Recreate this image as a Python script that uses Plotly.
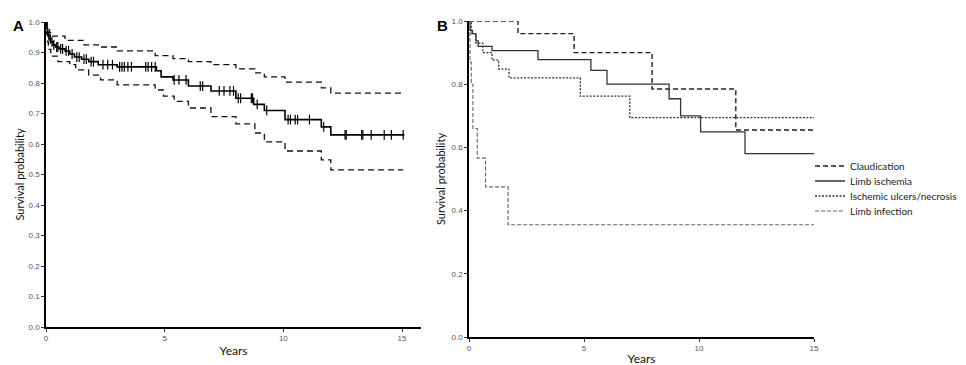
import numpy as np
import plotly.graph_objects as go

# ---------------- Panel A data ----------------
a_time = [0, 0.03, 0.06, 0.1, 0.15, 0.2, 0.3, 0.4, 0.55, 0.8, 1.0, 1.2, 1.5, 1.8, 2.2, 3.0,
          4.65, 4.85, 5.35, 6.0, 6.95, 8.0, 8.75, 9.2, 10.07, 11.6, 12.0, 15.1]
a_surv = [1.0, 0.98, 0.965, 0.955, 0.945, 0.935, 0.925, 0.918, 0.912, 0.905, 0.895, 0.885, 0.878,
          0.87, 0.86, 0.853, 0.84, 0.82, 0.81, 0.79, 0.774, 0.75, 0.73, 0.71, 0.68, 0.656, 0.63, 0.63]

a_up_time = [0, 0.05, 0.15, 0.2, 0.8, 1.6, 2.2, 3.0, 4.6, 5.35, 6.0, 6.95, 8.0, 8.8, 9.2, 10.07,
             11.6, 12.0, 15.05]
a_up_surv = [1.0, 0.975, 0.965, 0.954, 0.94, 0.925, 0.918, 0.905, 0.89, 0.88, 0.87, 0.86, 0.846,
             0.833, 0.82, 0.803, 0.784, 0.767, 0.767]

a_lo_time = [0, 0.03, 0.06, 0.1, 0.2, 0.5, 1.0, 1.25, 1.8, 2.3, 3.0, 4.6, 4.95, 5.4, 6.0, 6.95,
             8.0, 8.8, 9.2, 10.07, 11.6, 12.0, 15.05]
a_lo_surv = [1.0, 0.96, 0.935, 0.91, 0.888, 0.87, 0.86, 0.843, 0.826, 0.81, 0.794, 0.777, 0.757,
             0.74, 0.718, 0.69, 0.666, 0.636, 0.607, 0.577, 0.548, 0.515, 0.515]

a_censor = [0.12, 0.18, 0.25, 0.33, 0.45, 0.5, 0.62, 0.7, 0.85, 0.95, 1.1, 1.3, 1.4, 1.6, 1.7,
            1.9, 2.0, 2.4, 2.6, 2.8, 3.1, 3.2, 3.3, 3.45, 3.6, 4.2, 4.3, 4.45, 4.6, 5.4, 5.6, 5.9,
            6.5, 6.6, 7.3, 7.5, 7.75, 7.9, 8.1, 8.2, 8.65, 8.7, 8.9, 9.3, 10.2, 10.3, 10.5, 10.6,
            11.1, 11.7, 12.6, 12.65, 13.3, 13.35, 13.7, 14.25, 14.55, 15.05]

# ---------------- Panel B data ----------------
claud_time = [0, 2.13, 4.57, 7.96, 11.6, 15]
claud_surv = [1.0, 0.96, 0.90, 0.785, 0.655, 0.655]

isch_time = [0, 0.05, 0.15, 0.3, 0.4, 1.0, 3.0, 5.3, 6.0, 8.7, 9.2, 10.07, 12.0, 15]
isch_surv = [1.0, 0.97, 0.96, 0.937, 0.92, 0.906, 0.878, 0.844, 0.80, 0.754, 0.70, 0.649, 0.58, 0.58]

ulcer_time = [0, 0.1, 0.3, 0.6, 1.0, 1.29, 1.74, 4.84, 6.99, 15]
ulcer_surv = [1.0, 0.96, 0.93, 0.90, 0.876, 0.848, 0.82, 0.762, 0.694, 0.694]

infect_time = [0, 0.04, 0.1, 0.17, 0.36, 0.72, 1.7, 15]
infect_surv = [1.0, 0.87, 0.80, 0.66, 0.566, 0.475, 0.355, 0.355]

legend_names = ["Claudication", "Limb ischemia", "Ischemic ulcers/necrosis", "Limb infection"]

a_yticks = [round(0.1 * i, 1) for i in range(11)]
b_yticks = [0.0, 0.2, 0.4, 0.6, 0.8, 1.0]
x_ticks = [0, 5, 10, 15]


def step_value(times, survs, t):
    idx = np.searchsorted(np.array(times), t, side="right") - 1
    return [survs[i] for i in idx]


fig = go.Figure()

# Panel A
fig.add_trace(go.Scatter(x=a_up_time, y=a_up_surv, mode="lines", line_shape="hv",
                         line=dict(color="#111", width=1.3, dash="6px,4px"),
                         xaxis="x", yaxis="y", showlegend=False, cliponaxis=False))
fig.add_trace(go.Scatter(x=a_lo_time, y=a_lo_surv, mode="lines", line_shape="hv",
                         line=dict(color="#111", width=1.3, dash="6px,4px"),
                         xaxis="x", yaxis="y", showlegend=False, cliponaxis=False))
fig.add_trace(go.Scatter(x=a_time, y=a_surv, mode="lines", line_shape="hv",
                         line=dict(color="#000", width=1.6),
                         xaxis="x", yaxis="y", showlegend=False, cliponaxis=False))
fig.add_trace(go.Scatter(x=a_censor, y=step_value(a_time, a_surv, a_censor), mode="markers",
                         marker=dict(symbol="line-ns-open", size=7, color="#000",
                                     line=dict(color="#000", width=1.2)),
                         xaxis="x", yaxis="y", showlegend=False, cliponaxis=False))

# Panel B
series_b = [
    (claud_time, claud_surv, dict(color="#222", width=1.4, dash="5px,3px"), "legend"),
    (isch_time, isch_surv, dict(color="#333", width=1.3), "legend2"),
    (ulcer_time, ulcer_surv, dict(color="#333", width=1.3, dash="2px,1.5px"), "legend3"),
    (infect_time, infect_surv, dict(color="#666", width=1.1, dash="4px,2px"), "legend4"),
]
for (t, s, ln, lg), name in zip(series_b, legend_names):
    fig.add_trace(go.Scatter(x=t, y=s, mode="lines", line_shape="hv", line=ln, name=name,
                             xaxis="x2", yaxis="y2", legend=lg, cliponaxis=False))

W, H = 966, 365
tickfont = dict(family="Liberation Sans, Arial", size=8, color="#555")
titlefont = dict(family="Lato, Open Sans", size=12, color="#111")

axis_common = dict(showline=True, linecolor="#000", linewidth=1.5, ticks="outside",
                   ticklen=3, tickwidth=1, tickcolor="#333", showgrid=False, zeroline=False,
                   tickfont=tickfont, automargin=False, fixedrange=True)

legend_common = dict(font=dict(family="Lato, Open Sans", size=10, color="#222"),
                     bgcolor="rgba(0,0,0,0)", itemwidth=30, xanchor="left", yanchor="middle",
                     tracegroupgap=0)
leg_x = 802 / W
leg_ys = [158, 173, 188, 203]

fig.update_layout(
    width=W, height=H,
    margin=dict(l=0, r=0, t=0, b=0),
    paper_bgcolor="white", plot_bgcolor="white",
    xaxis=dict(domain=[38 / W, 413 / W], range=[0, 15.8], tickvals=x_ticks,
               title=dict(text="Years", font=titlefont, standoff=4), anchor="y", **axis_common),
    yaxis=dict(domain=[(H - 319) / H, (H - 14) / H], range=[0, 1.0], tickvals=a_yticks,
               tickformat=".1f", title=dict(text="Survival probability", font=dict(
                   family="Lato, Open Sans", size=11, color="#111"), standoff=2),
               anchor="x", **axis_common),
    xaxis2=dict(domain=[461 / W, 806 / W], range=[0, 15], tickvals=x_ticks,
                title=dict(text="Years", font=titlefont, standoff=2), anchor="y2",
                **axis_common),
    yaxis2=dict(domain=[(H - 329) / H, (H - 13) / H], range=[0, 1.0], tickvals=b_yticks,
                tickformat=".1f", title=dict(text="Survival probability", font=dict(
                    family="Lato, Open Sans", size=11, color="#111"), standoff=4),
                anchor="x2", **axis_common),
    legend=dict(x=leg_x, y=(H - leg_ys[0]) / H, **legend_common),
    legend2=dict(x=leg_x, y=(H - leg_ys[1]) / H, **legend_common),
    legend3=dict(x=leg_x, y=(H - leg_ys[2]) / H, **legend_common),
    legend4=dict(x=leg_x, y=(H - leg_ys[3]) / H, **legend_common),
    annotations=[
        dict(text="<b>A</b>", x=10 / W, y=(H - 17) / H, xref="paper", yref="paper",
             xanchor="center", yanchor="middle", showarrow=False,
             font=dict(family="Liberation Sans, Arial", size=15, color="#000")),
        dict(text="<b>B</b>", x=434 / W, y=(H - 17) / H, xref="paper", yref="paper",
             xanchor="center", yanchor="middle", showarrow=False,
             font=dict(family="Liberation Sans, Arial", size=15, color="#000")),
    ],
)

fig.write_html("out.html")
